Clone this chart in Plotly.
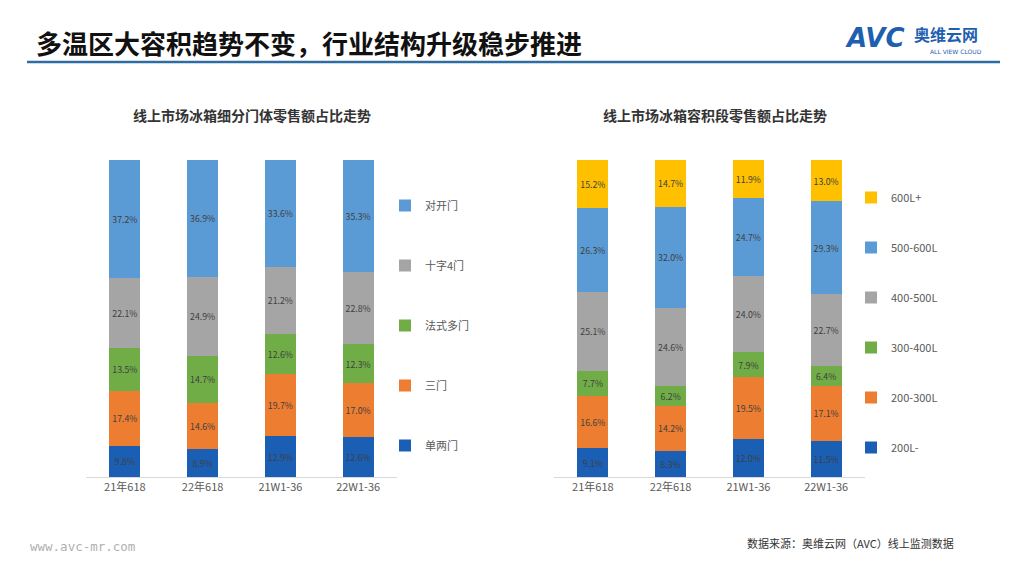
import plotly.graph_objects as go

categories = ["21年618", "22年618", "21W1-36", "22W1-36"]

# Left chart: door type shares (%)
door_names = ["单两门", "三门", "法式多门", "十字4门", "对开门"]
door_single_double = [9.8, 8.9, 12.9, 12.6]
door_three = [17.4, 14.6, 19.7, 17.0]
door_french = [13.5, 14.7, 12.6, 12.3]
door_cross4 = [22.1, 24.9, 21.2, 22.8]
door_sbs = [37.2, 36.9, 33.6, 35.3]

# Right chart: capacity segment shares (%)
cap_names = ["200L-", "200-300L", "300-400L", "400-500L", "500-600L", "600L+"]
cap_200m = [9.1, 8.3, 12.0, 11.5]
cap_200_300 = [16.6, 14.2, 19.5, 17.1]
cap_300_400 = [7.7, 6.2, 7.9, 6.4]
cap_400_500 = [25.1, 24.6, 24.0, 22.7]
cap_500_600 = [26.3, 32.0, 24.7, 29.3]
cap_600p = [15.2, 14.7, 11.9, 13.0]

DARKBLUE = "#1A5FB4"
ORANGE = "#ED7D31"
GREEN = "#70AD47"
GRAY = "#A5A5A5"
LIGHTBLUE = "#5B9BD5"
GOLD = "#FFC000"

FONT = "Noto Sans CJK SC"

fig = go.Figure()

door_series = [door_single_double, door_three, door_french, door_cross4, door_sbs]
door_colors = [DARKBLUE, ORANGE, GREEN, GRAY, LIGHTBLUE]
n = len(door_names)
for i, (name, vals, col) in enumerate(zip(door_names, door_series, door_colors)):
    fig.add_trace(go.Bar(
        x=categories, y=vals, name=name, marker=dict(color=col, line=dict(width=0)),
        width=0.4, text=[f"{v:.1f}%" for v in vals], textposition="inside",
        insidetextanchor="middle", textangle=0,
        textfont=dict(color="#404040", size=12, family=FONT),
        xaxis="x", yaxis="y", legend="legend", legendgroup="d" + name,
        legendrank=n - i,
    ))

cap_series = [cap_200m, cap_200_300, cap_300_400, cap_400_500, cap_500_600, cap_600p]
cap_colors = [DARKBLUE, ORANGE, GREEN, GRAY, LIGHTBLUE, GOLD]
m = len(cap_names)
for i, (name, vals, col) in enumerate(zip(cap_names, cap_series, cap_colors)):
    fig.add_trace(go.Bar(
        x=categories, y=vals, name=name, marker=dict(color=col, line=dict(width=0)),
        width=0.4, text=[f"{v:.1f}%" for v in vals], textposition="inside",
        insidetextanchor="middle", textangle=0,
        textfont=dict(color="#404040", size=12, family=FONT),
        xaxis="x2", yaxis="y2", legend="legend2", legendgroup="c" + name,
        legendrank=m - i,
    ))

W, H = 1024, 576
OFF = 8  # page body margin
def px(x):
    return (x - OFF) / W
def py(y):
    return 1 - (y - OFF) / H

axis_common = dict(showgrid=False, zeroline=False, ticks="", showline=True,
                   linecolor="#D9D9D9", linewidth=1, range=[-0.5, 3.5],
                   tickfont=dict(size=11, color="#595959", family=FONT))
yaxis_common = dict(range=[0, 100], visible=False, showgrid=False, zeroline=False)

fig.update_layout(
    width=W, height=H, margin=dict(l=0, r=0, t=0, b=0),
    paper_bgcolor="white", plot_bgcolor="white",
    barmode="stack", uniformtext=dict(minsize=8, mode="show"),
    font=dict(family=FONT),
    xaxis=dict(domain=[px(86), px(397)], anchor="y", **axis_common),
    yaxis=dict(domain=[py(477), py(160)], anchor="x", **yaxis_common),
    xaxis2=dict(domain=[px(554), px(865)], anchor="y2", **axis_common),
    yaxis2=dict(domain=[py(477), py(160)], anchor="x2", **yaxis_common),
    legend=dict(x=px(385), y=py(191), xanchor="left", yanchor="top",
                traceorder="grouped", tracegroupgap=41,
                font=dict(size=11, color="#595959", family=FONT),
                itemwidth=30, bgcolor="rgba(0,0,0,0)"),
    legend2=dict(x=px(851), y=py(183), xanchor="left", yanchor="top",
                 traceorder="grouped", tracegroupgap=31,
                 font=dict(size=11, color="#595959", family=FONT),
                 itemwidth=30, bgcolor="rgba(0,0,0,0)"),
    showlegend=True,
)

def ann(text, x, y, size, color, family=FONT, anchor="left"):
    return dict(text=text, x=px(x), y=py(y), xref="paper", yref="paper",
                xanchor=anchor, yanchor="middle", showarrow=False,
                font=dict(size=size, color=color, family=family))

annotations = [
    ann("<b>多温区大容积趋势不变，行业结构升级稳步推进</b>", 34, 42, 26, "#111111"),
    ann("<b>线上市场冰箱细分门体零售额占比走势</b>", 252, 115, 14, "#333333", anchor="center"),
    ann("<b>线上市场冰箱容积段零售额占比走势</b>", 715, 115, 14, "#333333", anchor="center"),
    ann("<b><i>AVC</i></b>", 843, 38, 26, "#1F5FAF", family="DejaVu Sans"),
    ann("<b>奥维云网</b>", 912, 34, 16, "#1F5FAF"),
    ann("ALL VIEW CLOUD", 928, 51, 6, "#1F5FAF", family="DejaVu Sans"),
    ann("www.avc-mr.com", 28, 546, 12.5, "#B0B0B0", family="DejaVu Sans Mono"),
    ann("数据来源：奥维云网（AVC）线上监测数据", 745, 543, 11, "#333333"),
]
fig.update_layout(annotations=annotations)

fig.add_shape(type="line", xref="paper", yref="paper", x0=px(27), x1=px(1000),
              y0=py(62), y1=py(62), line=dict(color="#2E6DA4", width=2.5))

fig.write_html("out.html")
